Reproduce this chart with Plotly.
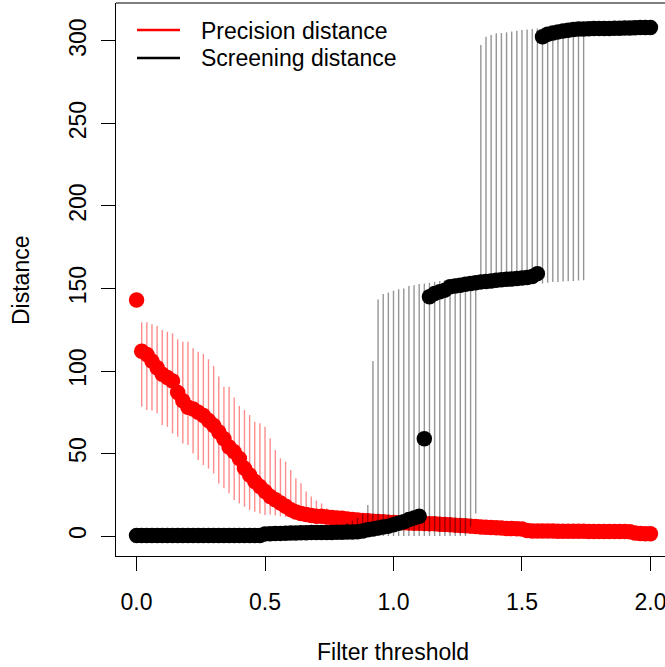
import numpy as np
import plotly.graph_objects as go

# Filter thresholds (x)
threshold = [
    0.00, 0.02, 0.04, 0.06, 0.08, 0.10, 0.12, 0.14, 0.16, 0.18,
    0.20, 0.22, 0.24, 0.26, 0.28, 0.30, 0.32, 0.34, 0.36, 0.38,
    0.40, 0.42, 0.44, 0.46, 0.48, 0.50, 0.52, 0.54, 0.56, 0.58,
    0.60, 0.62, 0.64, 0.66, 0.68, 0.70, 0.72, 0.74, 0.76, 0.78,
    0.80, 0.82, 0.84, 0.86, 0.88, 0.90, 0.92, 0.94, 0.96, 0.98,
    1.00, 1.02, 1.04, 1.06, 1.08, 1.10, 1.12, 1.14, 1.16, 1.18,
    1.20, 1.22, 1.24, 1.26, 1.28, 1.30, 1.32, 1.34, 1.36, 1.38,
    1.40, 1.42, 1.44, 1.46, 1.48, 1.50, 1.52, 1.54, 1.56, 1.58,
    1.60, 1.62, 1.64, 1.66, 1.68, 1.70, 1.72, 1.74, 1.76, 1.78,
    1.80, 1.82, 1.84, 1.86, 1.88, 1.90, 1.92, 1.94, 1.96, 1.98,
    2.00,
]

# Precision distance: mean, upper and lower bar ends
precision_mean = [
    143, 112, 110, 106, 102, 98, 96, 94, 87, 82,
    78, 77, 75, 73, 70, 67, 63, 59, 54, 51,
    47, 41, 37, 33, 30, 27, 24, 22, 20, 18,
    16, 14.5, 13.7, 13, 12.5, 12, 12, 11.5, 11.2, 11,
    10.7, 10.3, 10, 9.7, 9.4, 9.2, 9, 8.8, 8.6, 8.4,
    8.2, 8.1, 8, 7.9, 7.8, 7.7, 7.6, 7.5, 7.4, 7.2,
    7, 6.8, 6.6, 6.4, 6.2, 6, 5.8, 5.5, 5.3, 5.1,
    5, 4.8, 4.6, 4.5, 4.4, 4.3, 3.3, 3.1, 3.0, 3.0,
    3.0, 3.0, 2.9, 2.9, 2.9, 2.9, 2.9, 2.9, 2.8, 2.8,
    2.8, 2.8, 2.8, 2.8, 2.8, 2.8, 2.6, 1.8, 1.5, 1.4,
    1.4,
]
precision_upper = [
    143, 129.5, 129.5, 128.3, 127.3, 124.8, 123.8, 122.8, 119.2, 117.8,
    117.8, 113.8, 111.7, 110.3, 107.1, 103, 96.6, 90.5, 90.5, 84,
    78.8, 76.4, 73.3, 69.3, 68.3, 66.2, 59.2, 52.1, 47.1, 45.1,
    40, 35, 32, 27, 24, 21.5, 19.8, 16.8, 15.5, 14.5,
    13.5, 13, 12.5, 12, 11.5, 11, 10.8, 10.6, 10.4, 10.2,
    10, 9.9, 9.8, 9.7, 9.6, 9.5, 9.4, 9.3, 9.2, 9,
    8.8, 8.6, 8.4, 8.2, 8, 7.8, 7.6, 7.3, 7.1, 6.9,
    6.8, 6.6, 6.4, 6.3, 6.2, 6.1, 5, 4.8, 4.7, 4.7,
    4.6, 4.6, 4.5, 4.5, 4.5, 4.5, 4.5, 4.5, 4.4, 4.4,
    4.4, 4.4, 4.4, 4.4, 4.4, 4.4, 4.2, 3.4, 3.1, 3,
    3,
]
precision_lower = [
    143, 78.4, 76.4, 76, 74.4, 67.3, 66.2, 62.2, 60.1, 56.1,
    55.1, 50, 46, 43, 40.9, 37.9, 31.9, 28.9, 25.9, 21.8,
    19.8, 17.8, 15.8, 14.7, 13.7, 12.7, 13, 12.5, 12, 11.5,
    11, 10.5, 10, 9.8, 9.6, 9.4, 9.2, 9, 8.8, 8.6,
    8.4, 8.1, 7.8, 7.5, 7.2, 7, 6.9, 6.8, 6.7, 6.6,
    6.4, 6.3, 6.2, 6.1, 6, 5.9, 5.8, 5.7, 5.6, 5.4,
    5.2, 5, 4.8, 4.6, 4.4, 4.2, 4, 3.7, 3.5, 3.3,
    3.4, 3.2, 3, 2.9, 2.8, 2.7, 1.7, 1.5, 1.4, 1.4,
    1.4, 1.4, 1.3, 1.3, 1.3, 1.3, 1.3, 1.3, 1.2, 1.2,
    1.2, 1.2, 1.2, 1.2, 1.2, 1.2, 1, 0.2, -0.1, -0.2,
    -0.2,
]

# Screening distance: mean, upper and lower bar ends
screening_mean = [
    0.3, 0.3, 0.3, 0.3, 0.3, 0.3, 0.3, 0.3, 0.3, 0.3,
    0.3, 0.3, 0.3, 0.3, 0.3, 0.3, 0.3, 0.3, 0.3, 0.3,
    0.3, 0.3, 0.3, 0.3, 0.3, 1.3, 1.4, 1.5, 1.6, 1.7,
    1.8, 1.9, 2, 2, 2.1, 2.1, 2.2, 2.2, 2.2, 2.3,
    2.3, 2.4, 2.5, 2.6, 3, 3.8, 4.3, 4.8, 5.5, 6,
    6.8, 7.7, 8.6, 10, 11, 12, 59, 145, 147, 148,
    149, 151, 151.5, 152, 152.5, 153, 153.5, 154, 154.2, 154.5,
    155, 155.3, 155.6, 155.8, 156, 156.3, 156.6, 157.2, 159, 302.5,
    304, 304.8, 305.5, 306, 306.5, 307, 307.2, 307.3, 307.4, 307.5,
    307.5, 307.6, 307.6, 307.7, 307.7, 307.8, 307.9, 308, 308.1, 308.2,
    308.2,
]
screening_upper = [
    1.3, 1.3, 1.3, 1.3, 1.3, 1.3, 1.3, 1.3, 1.3, 1.3,
    1.3, 1.3, 1.3, 1.3, 1.3, 1.3, 1.3, 1.3, 1.3, 1.3,
    1.3, 1.3, 1.3, 1.3, 1.3, 2.3, 2.4, 2.5, 2.6, 2.7,
    2.8, 2.9, 3, 3, 3.1, 3.1, 3.2, 3.2, 3.2, 3.3,
    3.3, 7.9, 9.3, 11, 13.3, 18.8, 106, 143.4, 146.7, 147.5,
    148.7, 149.5, 150, 151.5, 152, 152.7, 153, 153.5, 154, 154.5,
    155, 155.5, 156, 156.2, 156.5, 156.8, 157, 297.6, 302.6, 303.6,
    304.6, 304.8, 305.2, 305.7, 306.2, 306.6, 307, 307.3, 307.5, 308,
    308.5, 309, 309.3, 309.6, 309.8, 310, 310.2, 310.4, 307.4, 307.5,
    307.5, 307.6, 307.6, 307.7, 307.7, 307.8, 307.9, 308, 308.1, 308.2,
    308.2,
]
screening_lower = [
    -0.7, -0.7, -0.7, -0.7, -0.7, -0.7, -0.7, -0.7, -0.7, -0.7,
    -0.7, -0.7, -0.7, -0.7, -0.7, -0.7, -0.7, -0.7, -0.7, -0.7,
    -0.7, -0.7, -0.7, -0.7, -0.7, 0.3, 0.4, 0.5, 0.6, 0.7,
    0.8, 0.9, 1, 1, 1.1, 1.1, 1.2, 1.2, 1.2, 1.3,
    1.3, 0, 0, 0, 0, 0, 0, 0, 0, 0,
    0, 0, 0, 0, 0, 0, 0, 0, 0, 0,
    0, 0, 0, 0, 0, 5.6, 13.7, 151, 151.2, 151.5,
    152, 152.3, 152.6, 152.8, 153, 153.3, 153.6, 154.2, 156, 153,
    153.5, 154, 154, 154.2, 154.4, 154.6, 154.8, 155, 307.4, 307.5,
    307.5, 307.6, 307.6, 307.7, 307.7, 307.8, 307.9, 308, 308.1, 308.2,
    308.2,
]

x_ticks = [0.0, 0.5, 1.0, 1.5, 2.0]
x_ticktext = ["0.0", "0.5", "1.0", "1.5", "2.0"]
y_ticks = [0, 50, 100, 150, 200, 250, 300]
legend_labels = ["Precision distance", "Screening distance"]

FONT = "Liberation Sans, Arial, Helvetica, sans-serif"
FS = 23

pm = np.array(precision_mean, dtype=float)
pu = np.array(precision_upper, dtype=float)
pl = np.array(precision_lower, dtype=float)
sm = np.array(screening_mean, dtype=float)
su = np.array(screening_upper, dtype=float)
sl = np.array(screening_lower, dtype=float)

fig = go.Figure()

fig.add_trace(go.Scatter(
    x=threshold, y=pm, mode="markers",
    marker=dict(size=1, color="rgba(0,0,0,0)"),
    error_y=dict(type="data", symmetric=False, array=pu - pm, arrayminus=pm - pl,
                 color="rgba(255,0,0,0.45)", thickness=1.4, width=0),
    showlegend=False, hoverinfo="skip"))
fig.add_trace(go.Scatter(
    x=threshold, y=pm, mode="markers",
    marker=dict(size=15.5, color="#ff0000", line=dict(width=0)),
    name=legend_labels[0], showlegend=False))
fig.add_trace(go.Scatter(
    x=threshold, y=sm, mode="markers",
    marker=dict(size=1, color="rgba(0,0,0,0)"),
    error_y=dict(type="data", symmetric=False, array=su - sm, arrayminus=sm - sl,
                 color="rgba(0,0,0,0.42)", thickness=1.4, width=0),
    showlegend=False, hoverinfo="skip"))
fig.add_trace(go.Scatter(
    x=threshold, y=sm, mode="markers",
    marker=dict(size=15.5, color="#000000", line=dict(width=0)),
    name=legend_labels[1], showlegend=False))

# Figure is slightly wider than the window so that the right side of the
# plot box falls just outside the view, as in the reference.
W, H = 671, 667
L, R, T, B = 116, 0, 3, 111
pw, ph = W - L - R, H - T - B

def px_x(p):
    return (p - L) / pw

def px_y(p):
    return (H - B - p) / ph

shapes = [
    dict(type="line", xref="paper", yref="paper", x0=0, x1=1, y0=1, y1=1,
         line=dict(color="black", width=1.2)),
    dict(type="line", xref="paper", yref="paper", x0=px_x(137), x1=px_x(180),
         y0=px_y(30), y1=px_y(30), line=dict(color="#ff0000", width=2.5)),
    dict(type="line", xref="paper", yref="paper", x0=px_x(137), x1=px_x(180),
         y0=px_y(58), y1=px_y(58), line=dict(color="#000000", width=2.5)),
]

annotations = [
    dict(text=legend_labels[0], xref="paper", yref="paper", x=px_x(199), y=px_y(31),
         xanchor="left", yanchor="middle", showarrow=False,
         font=dict(family=FONT, size=FS, color="black")),
    dict(text=legend_labels[1], xref="paper", yref="paper", x=px_x(199), y=px_y(58),
         xanchor="left", yanchor="middle", showarrow=False,
         font=dict(family=FONT, size=FS, color="black")),
    dict(text="Filter threshold", xref="paper", yref="paper", x=px_x(393), y=px_y(652),
         xanchor="center", yanchor="middle", showarrow=False,
         font=dict(family=FONT, size=FS, color="black")),
    dict(text="Distance", xref="paper", yref="paper", x=px_x(21), y=px_y(281),
         xanchor="center", yanchor="middle", showarrow=False, textangle=-90,
         font=dict(family=FONT, size=FS, color="black")),
]

fig.update_layout(
    width=W, height=H,
    margin=dict(l=L, r=R, t=T, b=B, pad=0),
    paper_bgcolor="white", plot_bgcolor="white",
    showlegend=False,
    font=dict(family=FONT, size=FS, color="black"),
    shapes=shapes, annotations=annotations,
    xaxis=dict(range=[-0.08, 2.08], tickmode="array", tickvals=x_ticks, ticktext=x_ticktext,
               ticks="outside", ticklen=14, tickwidth=1.2, tickcolor="black",
               showline=True, linecolor="black", linewidth=1.2, showgrid=False, zeroline=False,
               ticklabelstandoff=11, tickfont=dict(family=FONT, size=FS, color="black")),
    yaxis=dict(range=[-12.1, 323], tickmode="array", tickvals=y_ticks,
               ticks="outside", ticklen=14, tickwidth=1.2, tickcolor="black", tickangle=-90,
               showline=True, linecolor="black", linewidth=1.2, showgrid=False, zeroline=False,
               ticklabelstandoff=6, tickfont=dict(family=FONT, size=FS, color="black")),
)

fig.write_html(
    "out.html",
    config={"displayModeBar": False},
    post_script="document.body.style.margin='0';document.body.style.overflow='hidden';",
)
